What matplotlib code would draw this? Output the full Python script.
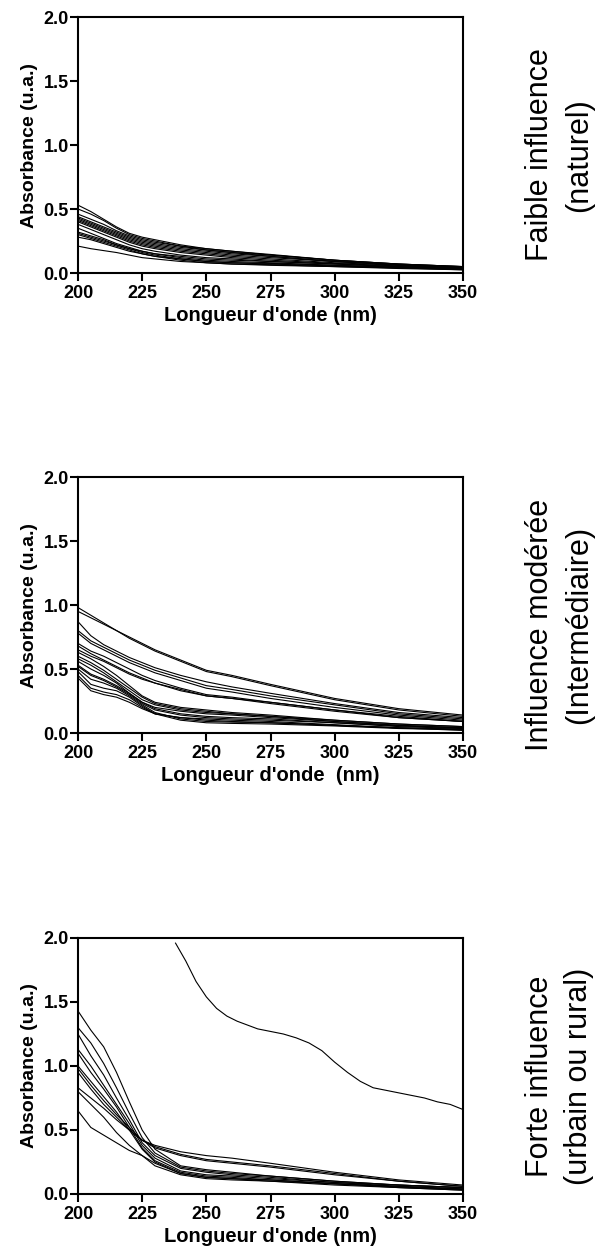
import numpy as np
import matplotlib
matplotlib.use("Agg")
import matplotlib.pyplot as plt

wl = [200, 205, 210, 215, 220, 225, 230, 240, 250, 260, 275, 300, 325, 350]

faible = [
    [0.53, 0.48, 0.42, 0.36, 0.31, 0.28, 0.26, 0.22, 0.19, 0.17, 0.14, 0.10, 0.07, 0.05],
    [0.50, 0.46, 0.41, 0.35, 0.30, 0.27, 0.25, 0.21, 0.18, 0.16, 0.13, 0.09, 0.065, 0.045],
    [0.46, 0.42, 0.38, 0.33, 0.29, 0.26, 0.24, 0.21, 0.19, 0.17, 0.145, 0.10, 0.07, 0.05],
    [0.44, 0.40, 0.36, 0.32, 0.28, 0.25, 0.23, 0.20, 0.18, 0.16, 0.14, 0.10, 0.07, 0.05],
    [0.43, 0.39, 0.35, 0.31, 0.27, 0.24, 0.22, 0.19, 0.17, 0.15, 0.13, 0.09, 0.065, 0.045],
    [0.42, 0.38, 0.34, 0.30, 0.26, 0.23, 0.21, 0.18, 0.16, 0.14, 0.12, 0.09, 0.06, 0.04],
    [0.41, 0.37, 0.33, 0.29, 0.25, 0.22, 0.20, 0.17, 0.15, 0.13, 0.11, 0.08, 0.06, 0.04],
    [0.40, 0.36, 0.32, 0.28, 0.24, 0.21, 0.19, 0.16, 0.14, 0.12, 0.10, 0.075, 0.055, 0.04],
    [0.38, 0.34, 0.30, 0.26, 0.22, 0.19, 0.17, 0.14, 0.12, 0.11, 0.09, 0.07, 0.05, 0.035],
    [0.35, 0.31, 0.27, 0.23, 0.20, 0.17, 0.15, 0.12, 0.10, 0.09, 0.08, 0.06, 0.045, 0.03],
    [0.32, 0.29, 0.26, 0.22, 0.19, 0.16, 0.14, 0.11, 0.09, 0.08, 0.07, 0.055, 0.04, 0.03],
    [0.31, 0.28, 0.25, 0.22, 0.19, 0.17, 0.15, 0.13, 0.11, 0.10, 0.09, 0.07, 0.05, 0.035],
    [0.30, 0.27, 0.24, 0.21, 0.18, 0.15, 0.13, 0.10, 0.08, 0.07, 0.065, 0.05, 0.04, 0.025],
    [0.28, 0.26, 0.23, 0.20, 0.17, 0.15, 0.13, 0.11, 0.09, 0.08, 0.075, 0.06, 0.045, 0.03],
    [0.21, 0.19, 0.175, 0.16, 0.14, 0.12, 0.11, 0.09, 0.08, 0.07, 0.06, 0.05, 0.035, 0.025],
]

moderee = [
    [0.98, 0.92, 0.86, 0.80, 0.75, 0.70, 0.65, 0.57, 0.49, 0.45, 0.38, 0.27, 0.19, 0.14],
    [0.95, 0.90, 0.85, 0.80, 0.74, 0.69, 0.64, 0.56, 0.48, 0.44, 0.37, 0.26, 0.18, 0.13],
    [0.87, 0.76, 0.69, 0.64, 0.59, 0.55, 0.51, 0.45, 0.40, 0.36, 0.31, 0.23, 0.16, 0.12],
    [0.80, 0.72, 0.67, 0.62, 0.57, 0.53, 0.49, 0.43, 0.37, 0.34, 0.29, 0.22, 0.15, 0.11],
    [0.78, 0.70, 0.65, 0.60, 0.55, 0.51, 0.47, 0.41, 0.35, 0.32, 0.27, 0.20, 0.14, 0.10],
    [0.70, 0.64, 0.60, 0.55, 0.50, 0.45, 0.41, 0.35, 0.30, 0.28, 0.24, 0.18, 0.13, 0.09],
    [0.68, 0.62, 0.57, 0.52, 0.47, 0.43, 0.39, 0.34, 0.29, 0.27, 0.23, 0.17, 0.12, 0.09],
    [0.65, 0.60, 0.56, 0.51, 0.46, 0.42, 0.39, 0.33, 0.29, 0.27, 0.24, 0.18, 0.12, 0.09],
    [0.63, 0.58, 0.52, 0.45, 0.37, 0.29, 0.24, 0.20, 0.18, 0.16, 0.14, 0.10, 0.07, 0.05],
    [0.60, 0.55, 0.49, 0.42, 0.35, 0.28, 0.23, 0.19, 0.17, 0.15, 0.13, 0.10, 0.07, 0.05],
    [0.58, 0.53, 0.47, 0.40, 0.33, 0.26, 0.22, 0.18, 0.16, 0.15, 0.13, 0.09, 0.06, 0.04],
    [0.56, 0.50, 0.45, 0.39, 0.31, 0.24, 0.20, 0.17, 0.15, 0.14, 0.12, 0.09, 0.06, 0.04],
    [0.53, 0.46, 0.42, 0.37, 0.31, 0.24, 0.19, 0.15, 0.13, 0.12, 0.11, 0.08, 0.055, 0.04],
    [0.52, 0.45, 0.41, 0.36, 0.30, 0.23, 0.18, 0.14, 0.12, 0.11, 0.10, 0.08, 0.05, 0.035],
    [0.50, 0.42, 0.39, 0.35, 0.29, 0.22, 0.16, 0.11, 0.09, 0.085, 0.08, 0.06, 0.04, 0.03],
    [0.48, 0.38, 0.35, 0.33, 0.28, 0.21, 0.15, 0.10, 0.08, 0.075, 0.07, 0.055, 0.035, 0.025],
    [0.45, 0.35, 0.32, 0.30, 0.26, 0.20, 0.15, 0.12, 0.10, 0.09, 0.08, 0.06, 0.04, 0.03],
    [0.43, 0.33, 0.30, 0.28, 0.24, 0.19, 0.15, 0.12, 0.11, 0.10, 0.09, 0.065, 0.04, 0.02],
]

forte = [
    [1.43, 1.28, 1.15, 0.95, 0.72, 0.50, 0.35, 0.22, 0.19, 0.17, 0.14, 0.10, 0.07, 0.05],
    [1.30, 1.18, 1.02, 0.83, 0.63, 0.44, 0.32, 0.21, 0.18, 0.16, 0.14, 0.10, 0.07, 0.05],
    [1.25, 1.08, 0.93, 0.75, 0.58, 0.40, 0.30, 0.20, 0.17, 0.15, 0.13, 0.09, 0.07, 0.05],
    [1.13, 1.00, 0.85, 0.70, 0.55, 0.38, 0.28, 0.18, 0.15, 0.14, 0.12, 0.09, 0.06, 0.04],
    [1.10, 0.95, 0.82, 0.68, 0.52, 0.36, 0.26, 0.17, 0.14, 0.13, 0.11, 0.08, 0.06, 0.04],
    [1.00, 0.88, 0.76, 0.64, 0.50, 0.35, 0.25, 0.16, 0.13, 0.12, 0.11, 0.08, 0.055, 0.035],
    [0.98, 0.85, 0.73, 0.62, 0.52, 0.42, 0.38, 0.33, 0.30, 0.28, 0.24, 0.17, 0.11, 0.07],
    [0.95, 0.82, 0.70, 0.60, 0.50, 0.42, 0.37, 0.31, 0.27, 0.25, 0.22, 0.16, 0.10, 0.06],
    [0.83, 0.75, 0.67, 0.58, 0.50, 0.42, 0.36, 0.30, 0.26, 0.24, 0.21, 0.15, 0.10, 0.06],
    [0.80, 0.70, 0.60, 0.48, 0.38, 0.30, 0.22, 0.15, 0.12, 0.11, 0.10, 0.07, 0.05, 0.03],
    [0.65, 0.52, 0.46, 0.40, 0.34, 0.30, 0.24, 0.16, 0.13, 0.12, 0.10, 0.08, 0.05, 0.03],
]

wl_outlier = [238, 242, 246, 250, 254, 258, 262, 266, 270, 275, 280, 285, 290, 295,
              300, 305, 310, 315, 320, 325, 330, 335, 340, 345, 350]
outlier = [1.96, 1.82, 1.66, 1.54, 1.45, 1.39, 1.35, 1.32, 1.29, 1.27, 1.25, 1.22, 1.18, 1.12,
           1.03, 0.95, 0.88, 0.83, 0.81, 0.79, 0.77, 0.75, 0.72, 0.70, 0.66]

xticks = [200, 225, 250, 275, 300, 325, 350]
yticks = [0.0, 0.5, 1.0, 1.5, 2.0]
xlabels = ["Longueur d'onde (nm)", "Longueur d'onde  (nm)", "Longueur d'onde (nm)"]
ylabel = "Absorbance (u.a.)"
side_labels = [("Faible influence", "(naturel)"),
               ("Influence modérée", "(Intermédiaire)"),
               ("Forte influence", "(urbain ou rural)")]

plt.rcParams['font.family'] = ['Liberation Sans', 'DejaVu Sans']

fig = plt.figure(figsize=(5.96, 12.57), dpi=100)
W, H = 596, 1257
boxes = [(17, 273), (477, 733), (938, 1194)]
groups = [faible, moderee, forte]
side_y = [155, 625, 1076]

for i, ((top, bot), data) in enumerate(zip(boxes, groups)):
    ax = fig.add_axes([78 / W, 1 - bot / H, (463 - 78) / W, (bot - top) / H])
    for curve in data:
        ax.plot(wl, curve, color='black', lw=0.8)
    if i == 2:
        ax.plot(wl_outlier, outlier, color='black', lw=0.8)
    ax.set_xlim(200, 350)
    ax.set_ylim(0, 2.0)
    ax.set_xticks(xticks)
    ax.set_yticks(yticks)
    ax.set_yticklabels([f"{v:.1f}" for v in yticks])
    for s in ax.spines.values():
        s.set_linewidth(1.5)
    ax.tick_params(direction='out', length=5.5, width=1.5, labelsize=13)
    ax.tick_params(axis='x', pad=3)
    ax.tick_params(axis='y', pad=1)
    for lab in ax.get_xticklabels() + ax.get_yticklabels():
        lab.set_fontweight('bold')
    ax.set_xlabel(xlabels[i], fontsize=14.5, fontweight='bold', labelpad=3)
    ax.set_ylabel(ylabel, fontsize=14, fontweight='bold', labelpad=4)
    cy = 1 - side_y[i] / H
    fig.text(540 / W, cy, side_labels[i][0], rotation=90, ha='center', va='center',
             fontsize=22)
    fig.text(579 / W, cy, side_labels[i][1], rotation=90, ha='center', va='center',
             fontsize=22)

fig.savefig("out.png", dpi=100)
